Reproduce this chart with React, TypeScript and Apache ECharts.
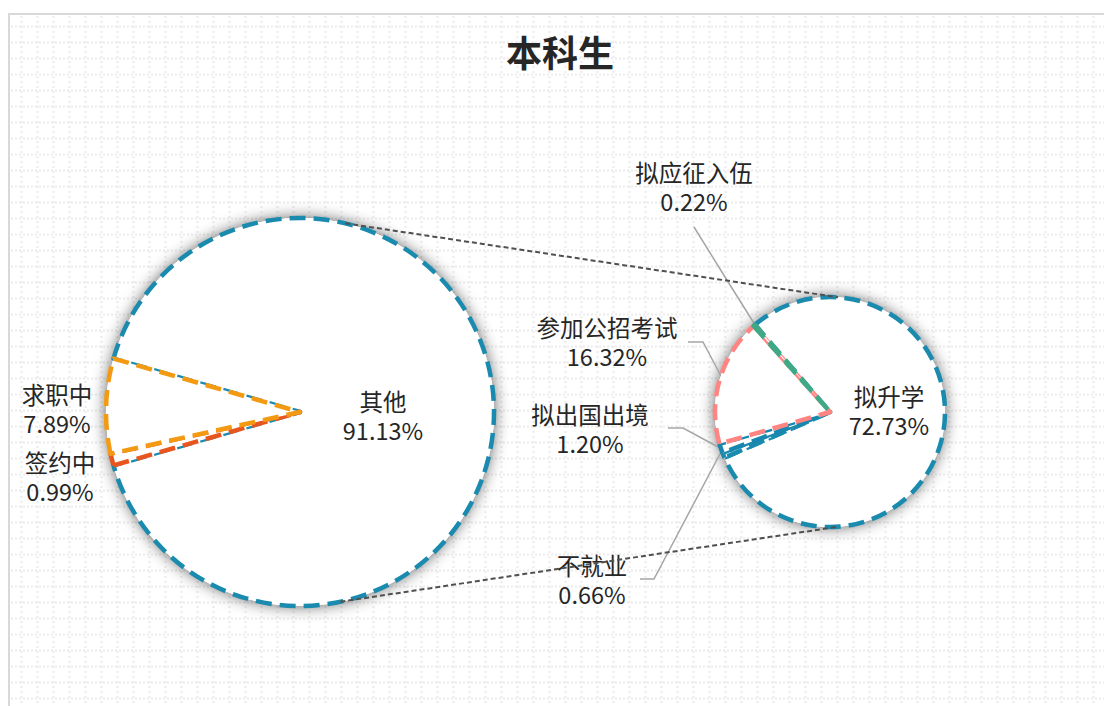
import React, { useEffect, useRef } from "react";
import * as echarts from "echarts";

// ---------- data ----------
const titleText = "本科生";

// first pie, in drawing order (clockwise)
const mainNames = ["其他", "签约中", "求职中"];
const mainValues = [91.13, 0.99, 7.89];
const mainColors = ["#1A8BAE", "#E8561F", "#F39A12"];

// second pie (breakdown of 其他), in drawing order (clockwise)
const subNames = ["拟升学", "不就业", "拟出国出境", "参加公招考试", "拟应征入伍"];
const subValues = [72.73, 0.66, 1.2, 16.32, 0.22];
const subColors = ["#1A8BAE", "#1A8BAE", "#1886AE", "#FF8482", "#3FA884"];

// ---------- layout ----------
const W = 1104;
const H = 706;
const C1 = [300, 412];
const R1 = 194;
const C2 = [830, 412];
const R2 = 115;
const START2 = 130.7;

// label centres: [x, y, leader points or null]
const LABELS_MAIN: any[] = [
  [383, 415, null],
  [60, 476, null],
  [57, 408, null],
];
const LABELS_SUB: any[] = [
  [889, 410, null],
  [592, 579, [[640, 579], [654, 579], [721, 452]]],
  [590, 428, [[668, 428], [683, 428], [720, 448]]],
  [607, 341, [[688, 342], [703, 342], [722, 378]]],
  [694, 186, [[694, 227], [725, 277], [757, 328]]],
];

const ptOn = (c: number[], r: number, deg: number) => [
  c[0] + r * Math.cos((deg * Math.PI) / 180),
  c[1] - r * Math.sin((deg * Math.PI) / 180),
];

export default function App() {
  const ref = useRef<HTMLDivElement>(null);

  useEffect(() => {
    if (!ref.current) return;
    const chart = echarts.init(ref.current, undefined, { renderer: "svg" });

    const total = mainValues.reduce((a, b) => a + b, 0);
    const start1 = (180 * mainValues[0]) / total;

    const graphics: any[] = [];
    // dotted background grid
    for (let x = 21.5; x < W; x += 16) {
      graphics.push({
        type: "line",
        silent: true,
        z: -10,
        shape: { x1: x, y1: 16, x2: x, y2: H },
        style: { stroke: "#ebebeb", lineWidth: 2, lineDash: [2, 3] },
      });
    }
    for (let y = 26.5; y < H; y += 16) {
      graphics.push({
        type: "line",
        silent: true,
        z: -10,
        shape: { x1: 11, y1: y, x2: W, y2: y },
        style: { stroke: "#ebebeb", lineWidth: 2, lineDash: [2, 2] },
      });
    }
    // frame
    graphics.push({
      type: "line",
      silent: true,
      z: -5,
      shape: { x1: 9, y1: 14, x2: 9, y2: H },
      style: { stroke: "#d9d9d9", lineWidth: 2 },
    });
    graphics.push({
      type: "line",
      silent: true,
      z: -5,
      shape: { x1: 8, y1: 14, x2: W, y2: 14 },
      style: { stroke: "#d9d9d9", lineWidth: 2 },
    });
    // pie shadows
    [
      [C1, R1],
      [C2, R2],
    ].forEach(([c, r]: any) => {
      graphics.push({
        type: "circle",
        silent: true,
        z: -1,
        shape: { cx: c[0], cy: c[1], r: r },
        style: {
          fill: "#ffffff",
          shadowBlur: 16,
          shadowColor: "rgba(0,0,0,0.65)",
        },
      });
    });
    // series lines
    const connectors = [
      [ptOn(C1, R1, 76.5), ptOn(C2, R2, 86)],
      [ptOn(C1, R1, -78), ptOn(C2, R2, -86)],
    ];
    connectors.forEach(([a, b]) => {
      graphics.push({
        type: "line",
        silent: true,
        z: 10,
        shape: { x1: a[0], y1: a[1], x2: b[0], y2: b[1] },
        style: { stroke: "#505050", lineWidth: 2, lineDash: [5, 3] },
      });
    });

    const labelStyle = {
      show: true,
      position: "outside",
      color: "#262626",
      fontSize: 23.5,
      lineHeight: 29,
      fontFamily: "'Noto Sans CJK SC', 'Noto Sans', sans-serif",
      align: "center",
      formatter: (p: any) => `${p.name}\n${Number(p.value).toFixed(2)}%`,
    };

    const mkData = (names: string[], values: number[], colors: string[], labels: any[]) =>
      names.map((n, i) => ({
        name: n,
        value: values[i],
        itemStyle: {
          color: "#ffffff",
          borderColor: colors[i],
          borderWidth: 4.5,
          borderType: [16, 8],
        },
        labelLine: labels[i][2]
          ? { show: true, lineStyle: { color: "#a6a6a6", width: 1.5 } }
          : { show: false },
      }));

    const mkLayout = (labels: any[]) => (params: any) => {
      const l = labels[params.dataIndex];
      const out: any = { x: l[0], y: l[1], align: "center", verticalAlign: "middle" };
      if (l[2]) out.labelLinePoints = l[2];
      return out;
    };

    chart.setOption({
      animation: false,
      backgroundColor: "#ffffff",
      title: {
        text: titleText,
        left: 555,
        top: 28,
        textAlign: "center",
        textStyle: {
          fontSize: 36,
          fontWeight: "bold",
          color: "#262626",
          fontFamily: "'Noto Sans CJK SC', serif",
        },
      },
      graphic: { elements: graphics },
      series: [
        {
          type: "pie",
          z: 2,
          center: C1,
          radius: R1,
          startAngle: start1,
          clockwise: true,
          silent: true,
          avoidLabelOverlap: false,
          label: labelStyle,
          labelLayout: mkLayout(LABELS_MAIN),
          emphasis: { disabled: true },
          data: mkData(mainNames, mainValues, mainColors, LABELS_MAIN),
        },
        {
          type: "pie",
          z: 2,
          center: C2,
          radius: R2,
          startAngle: START2,
          clockwise: true,
          silent: true,
          avoidLabelOverlap: false,
          label: labelStyle,
          labelLayout: mkLayout(LABELS_SUB),
          emphasis: { disabled: true },
          data: mkData(subNames, subValues, subColors, LABELS_SUB),
        },
      ],
    });

    return () => chart.dispose();
  }, []);

  return (
    <div
      ref={ref}
      style={{ position: "fixed", left: 0, top: 0, width: W, height: H }}
    />
  );
}
